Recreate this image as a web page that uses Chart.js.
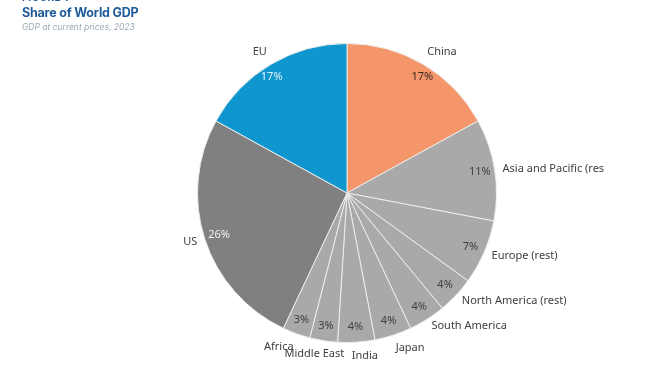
<!DOCTYPE html>
<html>
<head>
<meta charset="utf-8">
<script src="https://cdn.jsdelivr.net/npm/chart.js@4.4.1/dist/chart.umd.min.js"></script>
<style>
    html, body { margin: 0; padding: 0; background: #fff; }
    #wrap { position: relative; width: 650px; height: 381px; overflow: hidden; }
    #gdpChart { position: absolute; left: 0; top: 0; }
    .fig { position: absolute; left: 22px; top: -9px; font: bold 10px Inter, sans-serif; color: #1d5a98; letter-spacing: 0.5px; }
    .title { position: absolute; left: 22px; top: 5px; font: bold 12.5px Inter, sans-serif; color: #1d5a98; letter-spacing: -0.2px; }
    .sub { position: absolute; left: 22px; top: 22px; font: italic 8.5px Inter, sans-serif; color: #9ba7b4; }
</style>
</head>
<body>
<div id="wrap">
    <canvas id="gdpChart" width="650" height="381"></canvas>
    <div class="fig">FIGURE 1</div>
    <div class="title">Share of World GDP</div>
    <div class="sub">GDP at current prices, 2023</div>
</div>
<script>
const regions = ["China", "Asia and Pacific (res", "Europe (rest)", "North America (rest)", "South America",
    "Japan", "India", "Middle East", "Africa", "US", "EU"];
const shares = [17, 11, 7, 4, 4, 4, 4, 3, 3, 26, 17];
const shareLabels = ["17%", "11%", "7%", "4%", "4%", "4%", "4%", "3%", "3%", "26%", "17%"];

const sliceColors = regions.map(r => {
    if (r === "China") return "#f4956a";
    if (r === "EU") return "#0f96cf";
    if (r === "US") return "#808080";
    return "#a9a9a9";
});
const pctColors = regions.map(r => {
    if (r === "EU") return "#dff3fb";
    if (r === "US") return "#f2f2f2";
    if (r === "China") return "#3b2a22";
    return "#404040";
});

// draws the category names outside and the percentages inside each slice
const sliceLabels = {
    id: "sliceLabels",
    afterDatasetsDraw(chart) {
        const ctx = chart.ctx;
        const meta = chart.getDatasetMeta(0);
        meta.data.forEach((arc, i) => {
            const p = arc.getProps(["x", "y", "startAngle", "endAngle", "outerRadius"], true);
            const mid = (p.startAngle + p.endAngle) / 2;
            const cx = Math.cos(mid), cy = Math.sin(mid);

            ctx.save();
            ctx.font = "11px 'Noto Sans', sans-serif";
            ctx.fillStyle = pctColors[i];
            ctx.textAlign = "center";
            ctx.textBaseline = "middle";
            // big top slices carry their value a bit wider out
            const pr = p.outerRadius * 0.9;
            const spread = cy < -0.7 ? 1.1 : 1;
            ctx.fillText(shareLabels[i], p.x + cx * pr * spread, p.y + cy * pr);

            const nr = p.outerRadius + 8;
            ctx.fillStyle = "#404040";
            let tx = p.x + cx * nr;
            let align = cx > 0.25 ? "left" : (cx < -0.25 ? "right" : "center");
            if (align === "center") tx += Math.sign(cx) * 8;
            ctx.textAlign = align;
            ctx.textBaseline = cy < -0.5 ? "bottom" : (cy > 0.9 ? "top" : "middle");
            ctx.fillText(regions[i], tx, p.y + cy * nr);
            ctx.restore();
        });
    }
};

const ctx = document.getElementById("gdpChart").getContext("2d");
new Chart(ctx, {
    type: 'pie',
    data: {
        labels: regions,
        datasets: [{
            data: shares,
            backgroundColor: sliceColors,
            borderColor: '#ececec',
            borderWidth: 1
        }]
    },
    options: {
        responsive: false,
        animation: false,
        layout: {
            padding: { left: 197, right: 153, top: 43, bottom: 38 }
        },
        plugins: {
            legend: { display: false },
            tooltip: { enabled: false }
        }
    },
    plugins: [sliceLabels]
});
</script>
</body>
</html>
